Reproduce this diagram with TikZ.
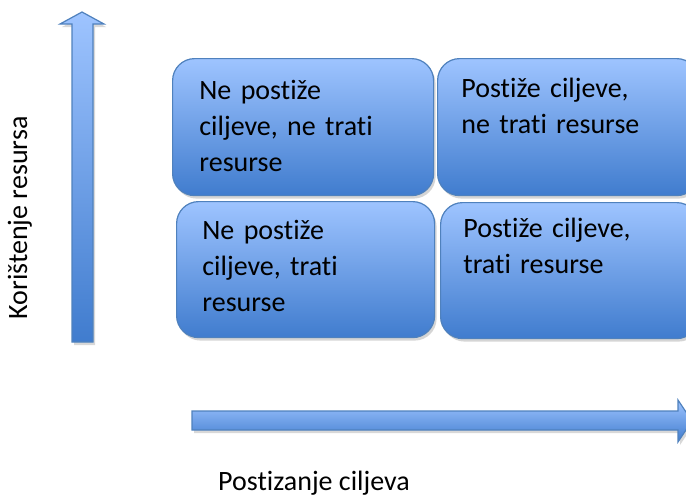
\documentclass[tikz,border=0pt]{standalone}
\usepackage{fontspec}
\setmainfont{Carlito}[Ligatures=NoCommon]
\usepackage{xcolor}
\usepackage{tikz}
\usetikzlibrary{positioning,shadows}
\definecolor{boxtop}{RGB}{158,196,255}
\definecolor{boxmid}{RGB}{125,169,238}
\definecolor{boxbot}{RGB}{64,124,206}
\definecolor{boxline}{RGB}{79,129,189}
\begin{document}
\begin{tikzpicture}[
    x=0.5pt, y=-0.5pt,
    quad/.style={draw=boxline, line width=0.6pt, rounded corners=11pt, anchor=north west,
        top color=boxtop, middle color=boxmid, bottom color=boxbot, inner sep=0pt,
        drop shadow={shadow xshift=1pt, shadow yshift=-1.5pt, fill=black!30, opacity=0.55}},
    qtext/.style={anchor=north west, inner sep=0pt, align=left, text width=115pt,
        font=\fontsize{14}{18}\selectfont},
    axis/.style={draw=boxline, line width=0.6pt, top color=boxtop, bottom color=boxbot,
        drop shadow={shadow xshift=1pt, shadow yshift=-1.5pt, fill=black!30, opacity=0.5}},
    axislabel/.style={anchor=base, inner sep=0pt, font=\fontsize{14}{18}\selectfont}
]
\useasboundingbox (0,0) rectangle (686,498);
\clip (0,0) rectangle (686,498);

% quadrant boxes
\node[quad, minimum width=130.5pt, minimum height=68.5pt] (q1) at (172,58) {};
\node[quad, minimum width=130.5pt, minimum height=68.5pt] (q2) at (437,58) {};
\node[quad, minimum width=129pt, minimum height=68pt] (q3) at (176,201) {};
\node[quad, minimum width=129pt, minimum height=68pt] (q4) at (440,202) {};

\node[qtext, below right=11pt and 13.5pt of q1.north west] (t1) {Ne postiže\\ciljeve, ne trati\\resurse};
\node[qtext, below right=10pt and 12pt of q2.north west] (t2) {Postiže ciljeve,\\ne trati resurse};
\node[qtext, below right=9.5pt and 13pt of q3.north west] (t3) {Ne postiže\\ciljeve, trati\\resurse};
\node[qtext, below right=8pt and 11.5pt of q4.north west] (t4) {Postiže ciljeve,\\trati resurse};

% axes
\draw[axis] (72,342) -- (72,24) -- (60,24) -- (82,12) -- (104,24) -- (93,24) -- (93,342) -- cycle;
\draw[axis] (192,411) -- (678,411) -- (678,400) -- (692,421) -- (678,442) -- (678,430) -- (192,430) -- cycle;

\node[axislabel, rotate=90] (ylab) at (27,218) {Korištenje resursa};
\node[axislabel] (xlab) at (314,490) {Postizanje ciljeva};
\end{tikzpicture}
\end{document}
